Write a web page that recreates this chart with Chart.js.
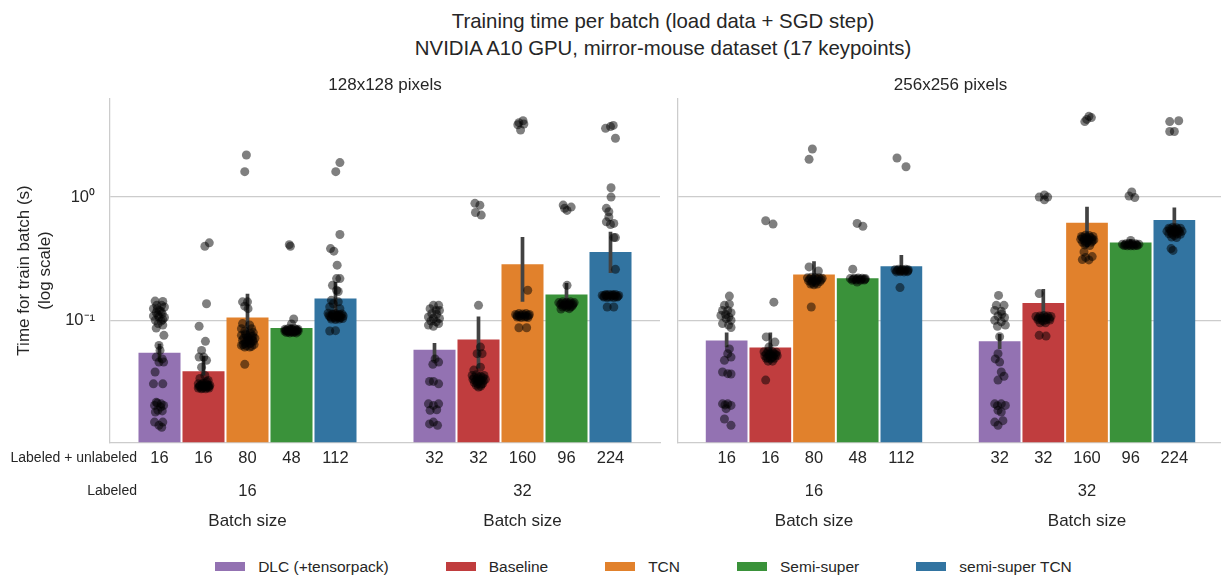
<!DOCTYPE html>
<html>
<head>
  <meta charset="UTF-8">
  <title>Training time per batch</title>
  <script src="https://cdn.jsdelivr.net/npm/chart.js"></script>
  <style>
    body { margin: 0; width: 1221px; height: 578px; overflow: hidden; background: #fff;
           font-family: 'Liberation Sans', Arial, sans-serif; color: #262626; position: relative; }
    #suptitle { position: absolute; left: 363px; width: 600px; top: 8.4px; text-align: center;
                font-size: 20.4px; line-height: 26.6px; }
    #c128 { position: absolute; left: 0; top: 60px; }
    #c256 { position: absolute; left: 668px; top: 60px; }
    #legend { position: absolute; left: 0; width: 1287px; top: 556.7px; display: flex;
              justify-content: center; gap: 57px; font-size: 15.5px; line-height: 20px; }
    .item { display: flex; align-items: center; }
    .patch { width: 30px; height: 9px; margin-right: 13px; }
  </style>
</head>
<body>
  <div id="suptitle">Training time per batch (load data + SGD step)<br>NVIDIA A10 GPU, mirror-mouse dataset (17 keypoints)</div>
  <canvas id="c128" width="668" height="474"></canvas>
  <canvas id="c256" width="560" height="474"></canvas>
  <div id="legend"></div>

  <script>
    const hueNames = ['DLC (+tensorpack)', 'Baseline', 'TCN', 'Semi-super', 'semi-super TCN'];
    const hueColors = ['#9372b2', '#c03d3e', '#e1812c', '#3a923a', '#3274a1'];
    const labeledBatch = ['16', '32'];
    const totalBatch = [['16', '16', '80', '48', '112'], ['32', '32', '160', '96', '224']];
    const yTicks = [0.1, 1];

    // 128x128 pixels: bar heights (mean) and error bar ends, [labeled 16][hue], [labeled 32][hue]
    const mean128 = [[0.055, 0.039, 0.106, 0.087, 0.151], [0.058, 0.0705, 0.286, 0.163, 0.36]];
    const ciLow128 = [[0.046, 0.036, 0.068, 0.081, 0.118], [0.047, 0.041, 0.142, 0.137, 0.243]];
    const ciHigh128 = [[0.065, 0.052, 0.165, 0.093, 0.205], [0.066, 0.108, 0.476, 0.202, 0.523]];

    // 256x256 pixels
    const mean256 = [[0.069, 0.0607, 0.236, 0.22, 0.276], [0.068, 0.139, 0.62, 0.429, 0.651]];
    const ciLow256 = [[0.061, 0.053, 0.193, 0.212, 0.233], [0.059, 0.100, 0.395, 0.41, 0.477]];
    const ciHigh256 = [[0.080, 0.080, 0.303, 0.228, 0.339], [0.078, 0.180, 0.834, 0.455, 0.824]];

    // individual runs: [jitter, seconds] per hue
    const strip128a = [
      [[-0.016,0.144],[0.012,0.143],[-0.010,0.133],[0.008,0.133],[-0.022,0.125],[0.018,0.129],[0,0.121],[-0.012,0.116],[0.010,0.114],[-0.022,0.109],[-0.002,0.107],[0.018,0.106],[-0.015,0.1006],[0.006,0.0994],[-0.005,0.0946],[0.012,0.092],[-0.012,0.087],[0.016,0.076],[-0.002,0.063],[0.002,0.0574],[-0.012,0.0507],[0.010,0.049],[-0.002,0.0462],[0.015,0.0462],[-0.016,0.0384],[-0.022,0.0308],[0.012,0.0308],[-0.012,0.0218],[0.006,0.0212],[-0.018,0.0206],[0.015,0.0206],[-0.006,0.0188],[-0.015,0.0182],[0.010,0.0186],[-0.018,0.0151],[0.012,0.0151],[-0.002,0.0142],[0.008,0.0137],[-0.008,0.125],[0.006,0.118],[-0.006,0.111],[0.012,0.102],[-0.008,0.0215],[0.004,0.0200]],
      [[0.005,0.40],[0.021,0.426],[0.011,0.137],[-0.016,0.090],[0.007,0.068],[-0.007,0.0574],[0.001,0.0507],[-0.016,0.0507],[0.011,0.0477],[-0.007,0.042],[0.005,0.036],[-0.013,0.034],[0.017,0.0328],[-0.019,0.0308],[-0.005,0.0308],[0.010,0.0308],[0.023,0.0300],[-0.013,0.0295],[0.002,0.0290],[0.017,0.0290],[-0.019,0.0285],[-0.008,0.0281],[0.008,0.0281],[0.020,0.0285],[-0.002,0.0300],[0.012,0.0320],[-0.012,0.0300],[0.004,0.0295],[0.015,0.0300],[-0.004,0.0285],[0.010,0.0290],[-0.016,0.0292],[0.020,0.0295],[0.000,0.0310]],
      [[-0.004,2.19],[-0.010,1.605],[-0.018,0.142],[0.000,0.142],[-0.010,0.131],[0.002,0.125],[-0.018,0.0946],[0.008,0.092],[-0.022,0.086],[0.015,0.086],[-0.010,0.082],[0.021,0.080],[-0.022,0.076],[-0.004,0.076],[0.015,0.074],[0.027,0.072],[-0.018,0.0693],[0.000,0.0693],[0.021,0.0680],[-0.010,0.0651],[0.008,0.0651],[0.024,0.0640],[-0.022,0.0630],[-0.004,0.0625],[0.015,0.0620],[-0.010,0.0611],[0.008,0.0611],[-0.010,0.0443],[-0.014,0.072],[0.004,0.070],[0.018,0.069],[-0.006,0.067],[0.012,0.066],[-0.016,0.064],[0.002,0.073],[0.020,0.075],[-0.008,0.078],[0.010,0.079]],
      [[-0.008,0.412],[-0.004,0.400],[0.008,0.103],[0.0,0.094],[-0.024,0.0850],[-0.012,0.0860],[0.000,0.0855],[0.012,0.0860],[0.024,0.0850],[-0.024,0.0820],[-0.012,0.0825],[0.000,0.0820],[0.012,0.0825],[0.024,0.0820],[-0.018,0.0800],[-0.006,0.0795],[0.006,0.0800],[0.018,0.0795],[-0.020,0.0835],[0.020,0.0835],[-0.018,0.0830],[-0.006,0.0840],[0.006,0.0830],[0.018,0.0840],[-0.012,0.0810],[0.000,0.0812],[0.012,0.0810]],
      [[0.016,1.90],[0.001,1.605],[0.016,0.498],[-0.018,0.383],[-0.006,0.365],[0.006,0.281],[0.004,0.219],[0.016,0.219],[-0.011,0.193],[0.004,0.176],[0.010,0.172],[-0.015,0.146],[0.010,0.142],[-0.008,0.137],[-0.021,0.129],[0.016,0.125],[-0.027,0.115],[-0.012,0.113],[0.000,0.114],[0.012,0.112],[0.024,0.113],[-0.020,0.108],[-0.005,0.107],[0.008,0.108],[0.020,0.106],[0.028,0.109],[-0.015,0.103],[0.000,0.102],[0.014,0.103],[-0.021,0.0824],[0.000,0.0830],[-0.024,0.110],[-0.010,0.111],[0.004,0.110],[0.018,0.111],[-0.016,0.106],[0.000,0.105],[0.014,0.106],[0.026,0.104],[-0.006,0.112],[0.010,0.109]]
    ];
    const strip128b = [
      [[-0.004,0.133],[0.015,0.133],[-0.016,0.125],[0.006,0.121],[0.018,0.121],[-0.010,0.114],[0.008,0.113],[-0.022,0.107],[-0.004,0.104],[0.018,0.104],[-0.013,0.0994],[0.006,0.098],[-0.022,0.092],[-0.004,0.090],[0.015,0.0946],[0.002,0.049],[0.015,0.0462],[-0.006,0.0443],[-0.004,0.0322],[0.015,0.0308],[-0.018,0.0322],[-0.022,0.0212],[-0.004,0.0206],[0.015,0.0212],[-0.016,0.0188],[0.008,0.0190],[-0.004,0.0151],[-0.018,0.0146],[0.011,0.0142]],
      [[-0.013,0.89],[0.005,0.86],[-0.011,0.75],[0.010,0.715],[0.000,0.133],[0.007,0.0611],[-0.005,0.054],[0.013,0.054],[-0.017,0.0398],[0.007,0.0420],[-0.023,0.0360],[-0.008,0.0365],[0.008,0.0355],[0.020,0.0360],[-0.020,0.0335],[-0.005,0.0340],[0.010,0.0330],[0.025,0.0335],[-0.015,0.0315],[0.000,0.0320],[0.015,0.0310],[-0.008,0.0300],[0.008,0.0295],[0.000,0.0290],[-0.016,0.0345],[0.000,0.0350],[0.016,0.0345],[-0.010,0.0325],[0.004,0.0330],[0.018,0.0325],[-0.004,0.0310],[0.010,0.0305]],
      [[-0.013,4.00],[0.002,4.15],[-0.007,3.49],[-0.017,3.85],[0.005,3.90],[0.019,0.176],[-0.025,0.112],[-0.013,0.114],[0.000,0.113],[0.013,0.114],[0.025,0.112],[-0.019,0.107],[-0.005,0.106],[0.008,0.107],[0.020,0.106],[-0.013,0.0875],[0.015,0.0875],[-0.020,0.110],[-0.006,0.110],[0.008,0.111],[0.022,0.110],[-0.012,0.108],[0.014,0.108]],
      [[-0.012,0.861],[0.002,0.78],[0.017,0.83],[-0.007,0.81],[0.002,0.193],[-0.028,0.140],[-0.014,0.142],[0.000,0.141],[0.014,0.142],[0.028,0.140],[-0.022,0.135],[-0.007,0.134],[0.008,0.135],[0.022,0.134],[-0.014,0.129],[0.000,0.128],[0.014,0.129],[-0.020,0.124],[0.010,0.125],[-0.018,0.138],[-0.004,0.138],[0.010,0.138],[0.024,0.137],[-0.010,0.132],[0.006,0.132],[0.020,0.131]],
      [[-0.018,3.60],[0.000,3.72],[0.010,3.80],[0.018,2.99],[0.002,1.19],[0.002,1.0],[-0.015,0.81],[-0.006,0.76],[-0.006,0.69],[-0.015,0.63],[0.000,0.60],[0.012,0.612],[0.012,0.47],[0.018,0.47],[0.018,0.26],[-0.030,0.160],[-0.018,0.162],[-0.006,0.163],[0.006,0.162],[0.018,0.163],[0.030,0.160],[-0.024,0.155],[-0.012,0.154],[0.000,0.155],[0.012,0.154],[0.024,0.155],[-0.012,0.129],[0.012,0.129],[-0.024,0.158],[-0.010,0.158],[0.004,0.159],[0.018,0.158],[0.026,0.157],[-0.016,0.161],[0.010,0.161]]
    ];
    const strip256a = [
      [[0.010,0.158],[-0.008,0.133],[0.010,0.136],[-0.015,0.121],[0.004,0.121],[0.016,0.116],[-0.021,0.110],[-0.002,0.104],[0.016,0.1006],[-0.015,0.0946],[0.007,0.092],[0.016,0.088],[0.010,0.0590],[0.004,0.054],[0.016,0.0507],[-0.008,0.0477],[-0.015,0.0384],[0.004,0.0372],[0.016,0.0370],[-0.015,0.0212],[0.004,0.0212],[0.016,0.0206],[-0.002,0.0194],[-0.008,0.0160],[0.016,0.0142],[-0.004,0.112],[0.008,0.107],[-0.006,0.0208]],
      [[-0.017,0.643],[0.010,0.604],[0.013,0.141],[-0.015,0.0738],[0.017,0.067],[-0.005,0.0611],[-0.023,0.0560],[-0.008,0.0565],[0.008,0.0560],[0.022,0.0555],[-0.020,0.0520],[-0.005,0.0525],[0.010,0.0515],[0.025,0.0520],[-0.015,0.0495],[0.000,0.0490],[0.015,0.0495],[-0.008,0.0470],[0.008,0.0470],[-0.017,0.0330],[-0.014,0.054],[0.000,0.054],[0.014,0.054],[-0.010,0.050],[0.006,0.050],[0.020,0.053]],
      [[-0.006,2.45],[-0.018,2.02],[-0.018,0.272],[0.016,0.252],[-0.024,0.222],[-0.010,0.224],[0.004,0.223],[0.018,0.222],[0.030,0.220],[-0.020,0.210],[-0.006,0.208],[0.008,0.209],[0.022,0.207],[-0.012,0.198],[0.012,0.198],[0.000,0.195],[-0.010,0.129],[-0.016,0.216],[-0.002,0.216],[0.012,0.216],[0.026,0.214],[-0.008,0.202],[0.006,0.203]],
      [[-0.002,0.612],[0.019,0.58],[-0.018,0.261],[-0.027,0.219],[-0.012,0.220],[0.002,0.221],[0.016,0.220],[0.028,0.219],[-0.020,0.212],[-0.005,0.213],[0.010,0.212],[0.024,0.213],[-0.002,0.205],[-0.016,0.216],[-0.002,0.217],[0.012,0.216],[0.026,0.216]],
      [[-0.016,2.07],[0.017,1.76],[-0.023,0.258],[-0.010,0.260],[0.003,0.259],[0.016,0.260],[0.025,0.258],[-0.018,0.248],[-0.004,0.249],[0.010,0.248],[0.022,0.249],[-0.005,0.185],[-0.016,0.254],[-0.002,0.254],[0.012,0.254],[0.024,0.253]]
    ];
    const strip256b = [
      [[-0.004,0.160],[-0.012,0.133],[0.016,0.133],[-0.018,0.121],[0.006,0.119],[-0.006,0.109],[0.018,0.106],[-0.018,0.1006],[0.006,0.098],[0.021,0.092],[-0.008,0.090],[0.000,0.074],[-0.006,0.054],[-0.016,0.049],[0.000,0.0462],[0.006,0.0384],[0.016,0.0355],[-0.006,0.0330],[-0.018,0.0212],[0.006,0.0212],[0.021,0.0206],[-0.006,0.0188],[0.006,0.0182],[-0.018,0.0151],[0.012,0.0155],[-0.006,0.0142],[0.008,0.113],[-0.008,0.0205]],
      [[-0.015,1.00],[0.004,1.04],[0.016,1.00],[0.004,0.95],[-0.015,0.1655],[-0.027,0.108],[-0.012,0.109],[0.002,0.110],[0.016,0.109],[0.028,0.108],[-0.020,0.102],[-0.005,0.101],[0.010,0.102],[0.024,0.101],[-0.012,0.096],[0.008,0.096],[-0.015,0.076],[0.010,0.075],[-0.018,0.105],[-0.004,0.105],[0.010,0.106],[0.022,0.104],[0.000,0.099]],
      [[-0.008,4.08],[0.007,4.50],[0.016,4.40],[-0.001,4.25],[-0.020,0.480],[-0.006,0.490],[0.008,0.488],[0.022,0.480],[-0.023,0.455],[-0.010,0.460],[0.004,0.458],[0.018,0.460],[0.025,0.450],[-0.016,0.430],[0.000,0.428],[0.016,0.430],[-0.008,0.410],[0.010,0.405],[-0.011,0.360],[-0.005,0.325],[0.007,0.310],[0.019,0.330],[-0.017,0.312],[-0.016,0.470],[-0.002,0.470],[0.012,0.470],[-0.010,0.445],[0.006,0.445],[0.020,0.442],[-0.004,0.420]],
      [[0.004,1.10],[-0.006,1.02],[0.015,0.99],[-0.030,0.415],[-0.018,0.418],[-0.006,0.420],[0.006,0.419],[0.018,0.418],[0.030,0.415],[-0.024,0.405],[-0.012,0.403],[0.000,0.404],[0.012,0.403],[0.024,0.405],[0.000,0.445],[-0.020,0.410],[-0.006,0.411],[0.008,0.410],[0.022,0.410]],
      [[-0.017,4.08],[0.016,4.15],[-0.017,3.39],[0.000,3.39],[-0.020,0.560],[-0.006,0.570],[0.008,0.565],[0.022,0.560],[-0.027,0.530],[-0.012,0.535],[0.002,0.540],[0.016,0.535],[0.028,0.530],[-0.020,0.505],[-0.006,0.500],[0.010,0.505],[0.022,0.500],[-0.010,0.475],[0.008,0.470],[-0.012,0.383],[-0.005,0.370],[-0.016,0.550],[-0.002,0.552],[0.012,0.550],[-0.012,0.518],[0.004,0.520],[0.018,0.518],[0.000,0.488]]
    ];

    const FONT = "'Liberation Sans', Arial, sans-serif";
    const TEXT = '#262626';
    const GRID = '#cccccc';
    Chart.defaults.font.family = FONT;
    Chart.defaults.color = TEXT;

    // seaborn-style dodge: 5 hues share 0.8 of each category slot
    const dodge = 0.16;
    const barX = (g, h) => g + (h - 2) * dodge;
    const sup = n => String(n).split('').map(c => ({'-': '\u207b', '0': '\u2070', '1': '\u00b9', '2': '\u00b2'})[c]).join('');

    const rowLabels = {
      id: 'rowLabels',
      afterDraw(chart) {
        const ctx = chart.ctx;
        const x = chart.chartArea.left + 27;
        ctx.save();
        ctx.font = '14px ' + FONT;
        ctx.fillStyle = TEXT;
        ctx.textAlign = 'right';
        ctx.textBaseline = 'middle';
        const s1 = chart.scales.x, s2 = chart.scales.xg;
        ctx.fillText('Labeled + unlabeled', x, s1.top + s1.options.ticks.padding + 9.9);
        ctx.fillText('Labeled', x, s2.top + s2.options.ticks.padding + 9.9);
        ctx.restore();
      }
    };

    function bottomAxis(weight, padding, size, values, label) {
      return {
        type: 'linear', position: 'bottom', weight: weight, min: -0.5, max: 1.5,
        bounds: 'data', offset: false,
        grid: { display: false, drawTicks: false },
        border: { display: weight === 0, color: GRID, width: 1.25 },
        afterBuildTicks: s => { s.ticks = values.map(v => ({ value: v })); },
        ticks: { autoSkip: false, maxRotation: 0, minRotation: 0, padding: padding,
                 font: { size: size }, color: TEXT, callback: (v, i) => label(i) }
      };
    }

    function makeChart(id, title, means, lo, hi, strips, isLeft) {
      const datasets = [];
      hueNames.forEach((name, h) => {
        datasets.push({
          type: 'bar', label: name, order: 2,
          data: labeledBatch.map((_, g) => ({ x: barX(g, h), y: means[g][h] })),
          backgroundColor: hueColors[h], grouped: false,
          barPercentage: 0.955, categoryPercentage: 1
        });
      });

      const err = [];
      labeledBatch.forEach((_, g) => hueNames.forEach((_, h) => {
        err.push({ x: barX(g, h), y: lo[g][h] }, { x: barX(g, h), y: hi[g][h] }, { x: barX(g, h), y: null });
      }));
      datasets.push({ type: 'line', data: err, borderColor: '#424242', borderWidth: 3.7,
                      pointRadius: 0, spanGaps: false, order: 1, borderCapStyle: 'butt' });

      const pts = [];
      strips.forEach((group, g) => group.forEach((list, h) =>
        list.forEach(([j, v]) => pts.push({ x: barX(g, h) + j, y: v }))));
      datasets.push({ type: 'scatter', data: pts, pointRadius: 4.5, pointHoverRadius: 4.5,
                      backgroundColor: 'rgba(0,0,0,0.5)', borderWidth: 0, order: 0 });

      const barTicks = [];
      labeledBatch.forEach((_, g) => hueNames.forEach((_, h) => barTicks.push(barX(g, h))));

      return new Chart(document.getElementById(id), {
        type: 'bar',
        data: { datasets: datasets },
        plugins: isLeft ? [rowLabels] : [],
        options: {
          responsive: false,
          animation: false,
          layout: { padding: { left: 0, right: isLeft ? 8 : 0, top: 0, bottom: 0 } },
          plugins: {
            legend: { display: false },
            tooltip: { enabled: false },
            title: { display: true, text: title, fullSize: false, color: TEXT,
                     font: { size: 17, weight: 'normal' }, padding: { top: 15, bottom: 2.9 } }
          },
          scales: {
            // tick padding is applied above and below each label row
            x: bottomAxis(0, 5.8, 16.5, barTicks, i => totalBatch[Math.floor(i / 5)][i % 5]),
            xg: bottomAxis(1, 7.4, 16.5, labeledBatch.map((_, g) => g), i => labeledBatch[i]),
            xb: bottomAxis(2, 2.5, 17, labeledBatch.map((_, g) => g), () => 'Batch size'),
            y: {
              type: 'logarithmic', min: 0.0103, max: 6.3, bounds: 'data',
              afterBuildTicks: s => { s.ticks = yTicks.map(v => ({ value: v })); },
              afterFit: s => { s.width = isLeft ? 110 : 9.5; },
              grid: { color: GRID, lineWidth: 1.25, drawTicks: false },
              border: { display: true, color: GRID, width: 1.25 },
              ticks: { display: isLeft, padding: 15, font: { size: 16.5 }, color: TEXT,
                       callback: v => '10' + sup(Math.round(Math.log10(v))) },
              title: { display: isLeft, text: ['Time for train batch (s)', '(log scale)'],
                       font: { size: 17 }, color: TEXT, padding: { top: 14.3, bottom: 0 } }
            }
          }
        }
      });
    }

    makeChart('c128', '128x128 pixels', mean128, ciLow128, ciHigh128, [strip128a, strip128b], true);
    makeChart('c256', '256x256 pixels', mean256, ciLow256, ciHigh256, [strip256a, strip256b], false);

    const legend = document.getElementById('legend');
    hueNames.forEach((name, h) => {
      const item = document.createElement('div');
      item.className = 'item';
      item.innerHTML = '<span class="patch" style="background:' + hueColors[h] + '"></span><span>' + name + '</span>';
      legend.appendChild(item);
    });
  </script>
</body>
</html>
